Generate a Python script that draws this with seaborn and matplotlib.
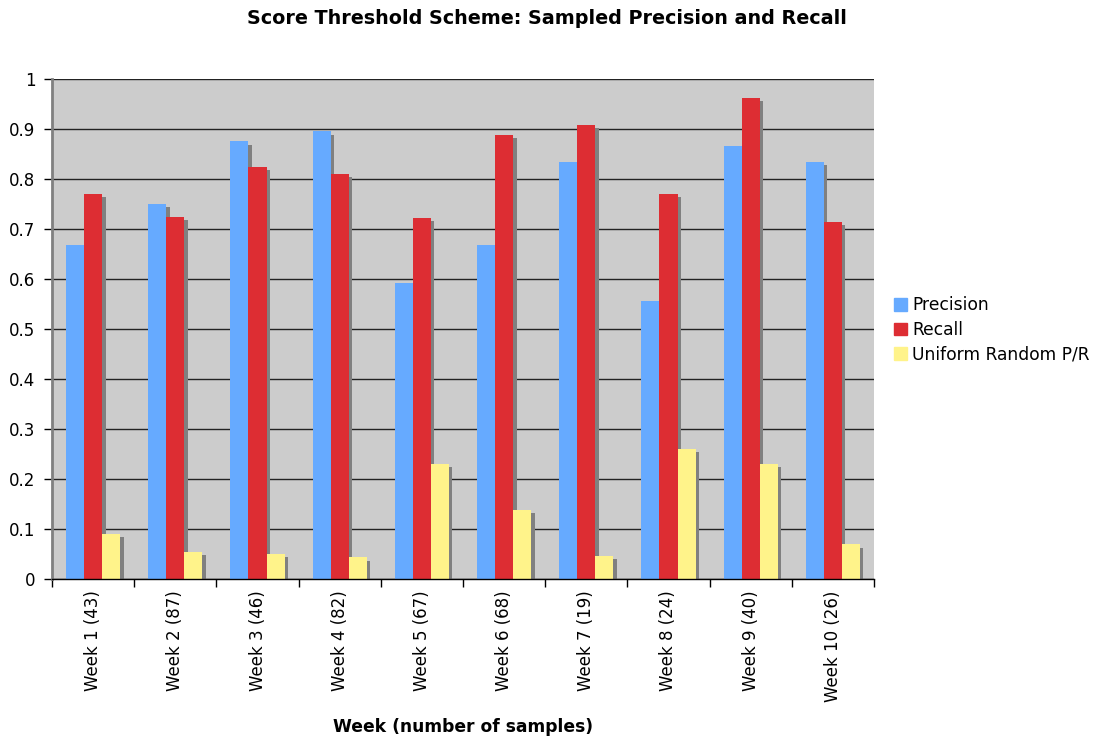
import numpy as np
import pandas as pd
import seaborn as sns
import matplotlib.pyplot as plt
import matplotlib.patheffects as pe

# values
weeks = ['Week 1 (43)', 'Week 2 (87)', 'Week 3 (46)', 'Week 4 (82)', 'Week 5 (67)',
         'Week 6 (68)', 'Week 7 (19)', 'Week 8 (24)', 'Week 9 (40)', 'Week 10 (26)']
precision = [0.667, 0.75, 0.875, 0.895, 0.592, 0.667, 0.834, 0.556, 0.866, 0.834]
recall = [0.77, 0.724, 0.824, 0.81, 0.722, 0.888, 0.908, 0.77, 0.962, 0.714]
uniform = [0.091, 0.055, 0.051, 0.044, 0.231, 0.139, 0.047, 0.26, 0.23, 0.07]
series = ['Precision', 'Recall', 'Uniform Random P/R']
colors = ['#66AAFF', '#DD2D33', '#FFF38A']

df = pd.DataFrame({
    'week': weeks * 3,
    'value': precision + recall + uniform,
    'series': [s for s in series for _ in weeks],
})

sns.set_style('white')
plt.rcParams['font.family'] = ['DejaVu Sans']
plt.rcParams.update({'text.color': 'black', 'axes.labelcolor': 'black',
                     'xtick.color': 'black', 'ytick.color': 'black'})

fig = plt.figure(figsize=(10.93, 7.38), dpi=100)
ax = fig.add_axes([0.0476, 0.2154, 0.752, 0.6776])
ax.set_facecolor('#CCCCCC')

sns.barplot(data=df, x='week', y='value', hue='series', palette=colors,
            width=0.66, ax=ax, legend=False, saturation=1)

# drop shadow like the spreadsheet chart
for bar in ax.patches:
    bar.set_linewidth(0)
    bar.set_path_effects([pe.SimplePatchShadow(offset=(2.5, -2.5), shadow_rgbFace='#808080', alpha=1),
                          pe.Normal()])

ax.set_ylim(0, 1)
ax.set_xlim(-0.5, 9.5)
ax.set_yticks(np.arange(0, 1.01, 0.1))
ax.set_yticklabels([f'{v:g}' for v in np.round(np.arange(0, 1.01, 0.1), 1)], fontsize=12)
ax.yaxis.grid(True, color='#222222', linewidth=1)
ax.set_axisbelow(True)

ax.set_xticks(range(len(weeks)))
ax.set_xticklabels(weeks, rotation=90, fontsize=12)
ax.set_xticks(np.arange(-0.5, 10, 1), minor=True)
ax.tick_params(axis='x', which='major', length=0, pad=8)
ax.tick_params(axis='x', which='minor', length=6, width=1, color='black', direction='out', bottom=True)
ax.tick_params(axis='y', length=6, width=1, color='black', direction='out', left=True, pad=6)

for s in ['top', 'right']:
    ax.spines[s].set_visible(False)
ax.spines['left'].set_color('#808080')
ax.spines['left'].set_linewidth(2)
ax.spines['bottom'].set_color('black')
ax.spines['bottom'].set_linewidth(1)

ax.set_ylabel('')
ax.set_xlabel('Week (number of samples)', fontsize=12.3, fontweight='bold', labelpad=12)

fig.suptitle('Score Threshold Scheme: Sampled Precision and Recall',
             fontsize=13.8, fontweight='bold', y=0.988)

handles = [plt.Rectangle((0, 0), 1, 1, color=c) for c in colors]
fig.legend(handles, series, loc='center left', bbox_to_anchor=(0.804, 0.553),
           frameon=False, fontsize=12.3, handlelength=0.75, handleheight=0.75,
           handletextpad=0.3, labelspacing=0.38)

fig.savefig('out.png', dpi=100)
